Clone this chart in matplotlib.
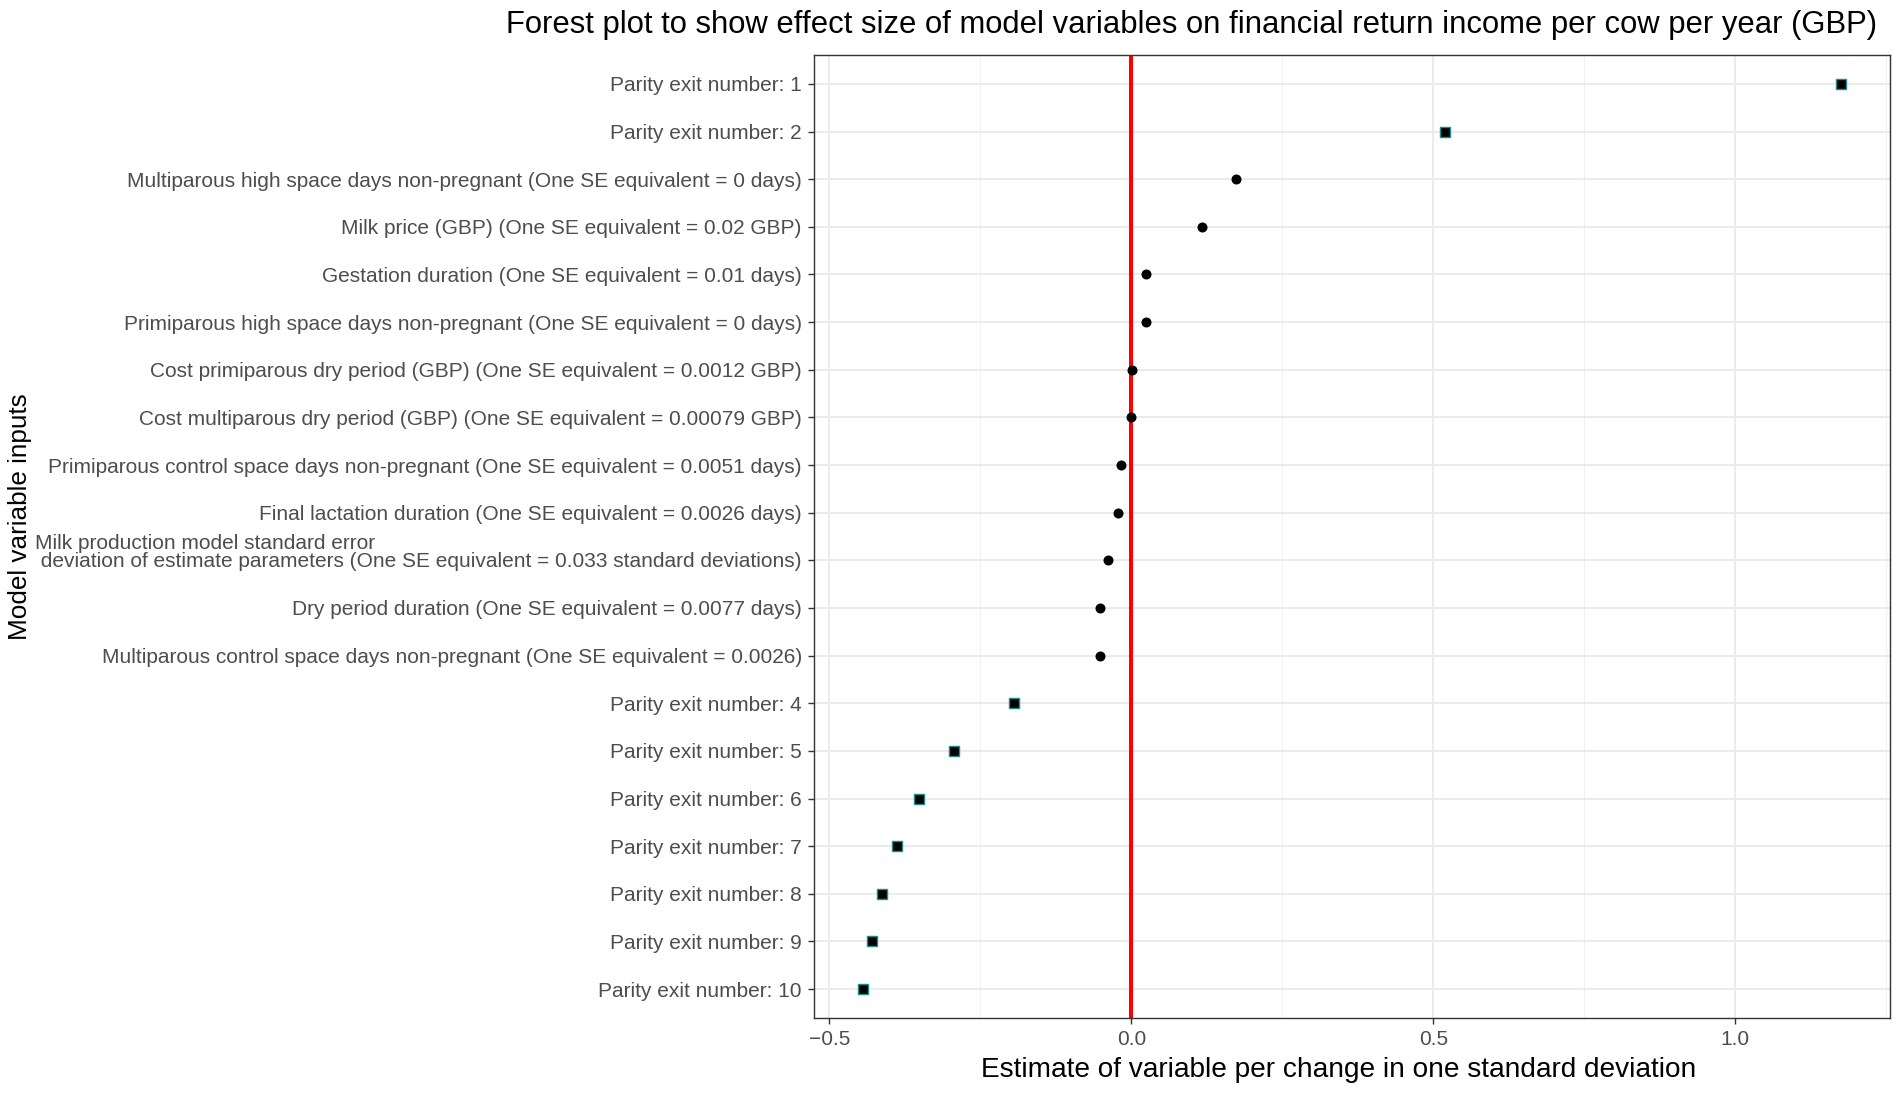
import matplotlib

matplotlib.use("Agg")
import matplotlib.pyplot as plt
from matplotlib.ticker import MultipleLocator

plt.rcParams["font.family"] = ["Liberation Sans", "DejaVu Sans"]

# 变量名称（自上而下）
labels = [
    "Parity exit number: 1",
    "Parity exit number: 2",
    "Multiparous high space days non-pregnant (One SE equivalent = 0 days)",
    "Milk price (GBP) (One SE equivalent = 0.02 GBP)",
    "Gestation duration (One SE equivalent = 0.01 days)",
    "Primiparous high space days non-pregnant (One SE equivalent = 0 days)",
    "Cost primiparous dry period (GBP) (One SE equivalent = 0.0012 GBP)",
    "Cost multiparous dry period (GBP) (One SE equivalent = 0.00079 GBP)",
    "Primiparous control space days non-pregnant (One SE equivalent = 0.0051 days)",
    "Final lactation duration (One SE equivalent = 0.0026 days)",
    "Milk production model standard error\n deviation of estimate parameters (One SE equivalent = 0.033 standard deviations)",
    "Dry period duration (One SE equivalent = 0.0077 days)",
    "Multiparous control space days non-pregnant (One SE equivalent = 0.0026)",
    "Parity exit number: 4",
    "Parity exit number: 5",
    "Parity exit number: 6",
    "Parity exit number: 7",
    "Parity exit number: 8",
    "Parity exit number: 9",
    "Parity exit number: 10",
]

estimates = [
    1.175, 0.519, 0.173, 0.1175, 0.0244, 0.0238, 0.0017, 0.0, -0.0166, -0.0216,
    -0.0388, -0.052, -0.052, -0.1945, -0.294, -0.351, -0.388, -0.413, -0.430, -0.4445,
]

# 是否为 parity 类变量（方形标记）
is_parity = [
    True, True, False, False, False, False, False, False, False, False,
    False, False, False, True, True, True, True, True, True, True,
]

TITLE = "Forest plot to show effect size of model variables on financial return income per cow per year (GBP)"
X_LABEL = "Estimate of variable per change in one standard deviation"
Y_LABEL = "Model variable inputs"


def main() -> None:
    fig = plt.figure(figsize=(19.02, 10.94), dpi=100)
    ax = fig.add_axes([0.428, 0.0698, 0.9937 - 0.428, 0.9494 - 0.0698])

    y_pos = list(range(len(labels)))
    sq_x = [e for e, p in zip(estimates, is_parity) if p]
    sq_y = [y for y, p in zip(y_pos, is_parity) if p]
    ci_x = [e for e, p in zip(estimates, is_parity) if not p]
    ci_y = [y for y, p in zip(y_pos, is_parity) if not p]

    ax.axvline(0.0, color="#FF0000", linewidth=2.9, zorder=2)
    ax.plot(ci_x, ci_y, linestyle="none", marker="o", markersize=6.2,
            markerfacecolor="black", markeredgecolor="black", zorder=3)
    ax.plot(sq_x, sq_y, linestyle="none", marker="s", markersize=6.6,
            markerfacecolor="black", markeredgecolor="#1E8C8C",
            markeredgewidth=1.0, zorder=3)

    span = max(estimates) - min(estimates)
    ax.set_xlim(min(estimates) - 0.05 * span, max(estimates) + 0.05 * span)
    ax.set_ylim(len(labels) - 0.4, -0.6)

    ax.xaxis.set_major_locator(MultipleLocator(0.5))
    ax.xaxis.set_minor_locator(MultipleLocator(0.25))
    ax.set_yticks(y_pos)
    # 多行标签末尾补一空行，使第二行与刻度对齐（与原图一致）
    ax.set_yticklabels([lab + "\n" if "\n" in lab else lab for lab in labels])
    for lab in ax.get_yticklabels():
        lab.set_multialignment("left")
        lab.set_linespacing(0.95)

    ax.grid(True, which="major", color="#EBEBEB", linewidth=1.4, zorder=0)
    ax.grid(True, which="minor", axis="x", color="#F2F2F2", linewidth=0.8, zorder=0)
    ax.set_axisbelow(True)

    ax.tick_params(axis="both", which="major", labelsize=15, labelcolor="#4D4D4D",
                   color="#333333", length=4.3, width=1.0, pad=4.5)
    ax.tick_params(axis="x", which="minor", length=0)
    for spine in ax.spines.values():
        spine.set_color("#333333")
        spine.set_linewidth(1.0)

    fig.text(0.9868, 0.977, TITLE, ha="right", va="center", fontsize=22.3, color="black")
    fig.text(0.7036, 0.022, X_LABEL, ha="center", va="center", fontsize=20.2, color="black")
    fig.text(0.0105, 0.528, Y_LABEL, ha="center", va="center", rotation=90,
             fontsize=18.8, color="black")

    fig.savefig("out.png", dpi=100, facecolor="white")
    plt.close(fig)


if __name__ == "__main__":
    main()
